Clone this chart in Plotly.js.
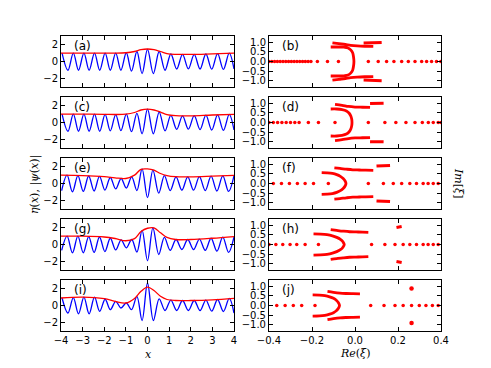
<!DOCTYPE html>
<html>
<head>
<meta charset="utf-8">
<script src="https://cdn.plot.ly/plotly-3.0.1.min.js"></script>
<style>
  html, body { margin: 0; padding: 0; background: #fff; }
  #chart { width: 491px; height: 368px; }
</style>
</head>
<body>
<div id="chart"></div>
<script>
// ---- left column: wave extrema (x positions) and values ----
// panels (a), (c), (i) have a crest at x = 0
const waveXCrest = [-3.95, -3.68, -3.43, -3.19, -2.94, -2.70, -2.45, -2.21, -1.96, -1.72, -1.47, -1.23,
  -0.98, -0.74, -0.49, -0.25, 0.0, 0.27, 0.54, 0.81, 1.08, 1.35, 1.62, 1.89, 2.16, 2.43, 2.70, 2.97,
  3.24, 3.51, 3.78, 4.0];
// panels (e), (g) have a trough at x = 0
const waveXTrough = [-3.97, -3.72, -3.47, -3.22, -2.97, -2.72, -2.47, -2.22, -1.97, -1.72, -1.47, -1.22,
  -0.98, -0.73, -0.49, -0.25, 0.0, 0.25, 0.52, 0.78, 1.05, 1.32, 1.59, 1.86, 2.13, 2.40, 2.67, 2.94,
  3.21, 3.48, 3.75, 4.0];

const wave_a = [1.0, -1.05, 1.0, -1.05, 1.0, -1.05, 1.0, -1.05, 1.0, -1.05, 1.0, -1.05, 1.05, -1.15, 1.2, -1.45,
  1.45, -1.45, 1.2, -1.05, 0.9, -0.9, 0.85, -0.88, 0.85, -0.9, 0.9, -0.92, 0.95, -0.95, 1.0, -0.9];
const wave_c = [1.0, -1.05, 1.0, -1.05, 1.0, -1.05, 1.0, -1.05, 0.97, -1.0, 0.95, -0.98, 1.0, -1.1, 1.1, -1.35,
  1.6, -1.35, 1.25, -1.0, 0.85, -0.82, 0.8, -0.8, 0.82, -0.85, 0.88, -0.9, 0.92, -0.95, 0.97, -0.9];
const wave_e = [-0.85, 1.0, -1.0, 0.95, -0.95, 0.9, -0.9, 0.85, -0.8, 0.72, -0.65, 0.6, -0.55, 0.8, -0.85, 1.75,
  -1.7, 1.6, -1.15, 0.95, -0.85, 0.8, -0.8, 0.8, -0.8, 0.82, -0.85, 0.88, -0.9, 0.92, -0.95, 0.95];
const wave_g = [-0.7, 1.0, -1.0, 1.0, -1.0, 0.95, -0.95, 0.9, -0.85, 0.75, -0.65, 0.55, -0.4, 0.6, -0.9, 1.7,
  -1.95, 2.0, -1.2, 0.85, -0.7, 0.6, -0.6, 0.6, -0.62, 0.65, -0.7, 0.75, -0.8, 0.88, -0.95, 0.9];
const wave_i = [0.9, -0.9, 0.95, -1.0, 1.0, -1.0, 1.0, -0.7, 0.75, -0.5, 0.5, -0.3, 0.3, -0.5, 1.1, -1.8,
  2.7, -1.8, 0.8, -0.6, 0.65, -0.6, 0.6, -0.6, 0.6, -0.62, 0.65, -0.68, 0.72, -0.72, 0.85, -0.9];

// red envelope |psi(x)|
const envX = [-4, -3, -2, -1.5, -1, -0.6, -0.3, 0, 0.3, 0.6, 0.9, 1.3, 2, 3, 4];
const env_a = [1.0, 1.0, 1.0, 1.0, 1.05, 1.2, 1.42, 1.5, 1.42, 1.2, 0.95, 0.86, 0.85, 0.92, 1.0];
const env_c = [1.0, 1.0, 0.98, 0.96, 1.0, 1.2, 1.5, 1.6, 1.5, 1.25, 0.95, 0.82, 0.8, 0.9, 0.97];
const env_e = [1.0, 0.95, 0.82, 0.68, 0.6, 1.0, 1.7, 1.75, 1.6, 1.2, 0.95, 0.82, 0.8, 0.88, 0.97];
const env_g = [1.0, 1.0, 0.9, 0.72, 0.45, 0.7, 1.55, 1.95, 2.0, 1.4, 0.85, 0.6, 0.6, 0.75, 0.95];
const env_i = [0.9, 1.0, 0.82, 0.5, 0.3, 0.85, 1.7, 2.2, 1.8, 1.1, 0.72, 0.6, 0.6, 0.68, 0.85];

// ---- right column: spectrum in the complex plane ----
const realX_b = [-0.400, -0.387, -0.374, -0.361, -0.348, -0.335, -0.322, -0.309, -0.296, -0.283, -0.270, -0.257,
  -0.244, -0.231, -0.218, -0.205, -0.175, -0.128, -0.077, 0.062, 0.108, 0.147, 0.181, 0.217, 0.248, 0.279,
  0.310, 0.333, 0.356, 0.379, 0.399];
const cX_b = [-0.113, -0.08, -0.05, -0.032, -0.02, -0.011, -0.007, -0.005, -0.007, -0.011, -0.02, -0.032, -0.05, -0.08, -0.113];
const cY_b = [0.75, 0.75, 0.74, 0.7, 0.6, 0.45, 0.25, 0, -0.25, -0.45, -0.6, -0.7, -0.74, -0.75, -0.75];
const upX_b = [-0.105, -0.075, -0.045, -0.02, 0.01, 0.045, 0.085];
const upY_b = [0.96, 0.92, 0.88, 0.84, 0.81, 0.79, 0.78];
const loY_b = [-0.96, -0.92, -0.88, -0.84, -0.81, -0.79, -0.78];
const tipX_b = [0.04, 0.07, 0.1, 0.124];
const tipY_b = [0.96, 0.97, 0.98, 0.99];
const tipLo_b = [-0.96, -0.97, -0.98, -0.99];

const realX_d = [-0.400, -0.380, -0.360, -0.340, -0.320, -0.300, -0.280, -0.260, -0.217, -0.170, -0.093,
  0.062, 0.139, 0.190, 0.237, 0.279, 0.313, 0.341, 0.364, 0.387, 0.400];
const cX_d = [-0.113, -0.085, -0.06, -0.04, -0.027, -0.019, -0.015, -0.014, -0.015, -0.019, -0.027, -0.04, -0.06, -0.085, -0.113];
const cY_d = [0.70, 0.70, 0.67, 0.6, 0.48, 0.32, 0.15, 0, -0.15, -0.32, -0.48, -0.6, -0.67, -0.70, -0.70];
const upX_d = [-0.093, -0.06, -0.03, 0.0, 0.035, 0.07];
const upY_d = [0.94, 0.89, 0.83, 0.8, 0.79, 0.78];
const loY_d = [-0.94, -0.89, -0.83, -0.8, -0.79, -0.78];
const tipX_d = [0.07, 0.09, 0.11, 0.133];
const tipY_d = [0.99, 1.0, 1.0, 1.0];
const tipLo_d = [-0.99, -1.0, -1.0, -1.0];

const realX_f = [-0.380, -0.342, -0.305, -0.268, -0.232, -0.193, -0.124, 0.062, 0.132, 0.178, 0.217, 0.255,
  0.286, 0.317, 0.340, 0.364, 0.387];
const cX_f = [-0.155, -0.13, -0.105, -0.085, -0.068, -0.055, -0.046, -0.042, -0.046, -0.055, -0.068, -0.085, -0.105, -0.13, -0.155];
const cY_f = [0.56, 0.55, 0.52, 0.46, 0.37, 0.26, 0.13, 0, -0.13, -0.26, -0.37, -0.46, -0.52, -0.55, -0.56];
const upX_f = [-0.096, -0.07, -0.04, -0.01, 0.02, 0.05, 0.085];
const upY_f = [0.81, 0.78, 0.74, 0.71, 0.7, 0.69, 0.68];
const loY_f = [-0.81, -0.78, -0.74, -0.71, -0.7, -0.69, -0.68];
const tipX_f = [0.1, 0.12, 0.14, 0.163];
const tipY_f = [0.9, 0.91, 0.92, 0.93];
const tipLo_f = [-0.9, -0.91, -0.92, -0.93];

const realX_h = [-0.400, -0.368, -0.336, -0.302, -0.271, -0.232, -0.170, 0.077, 0.139, 0.186, 0.224, 0.255,
  0.286, 0.317, 0.340, 0.364, 0.387];
const cX_h = [-0.193, -0.16, -0.13, -0.105, -0.085, -0.068, -0.056, -0.05, -0.056, -0.068, -0.085, -0.105, -0.13, -0.16, -0.193];
const cY_h = [0.55, 0.54, 0.51, 0.45, 0.37, 0.27, 0.14, 0, -0.14, -0.27, -0.37, -0.45, -0.51, -0.54, -0.55];
const upX_h = [-0.113, -0.085, -0.055, -0.025, 0.005, 0.035, 0.062];
const upY_h = [0.77, 0.73, 0.69, 0.66, 0.65, 0.64, 0.63];
const loY_h = [-0.77, -0.73, -0.69, -0.66, -0.65, -0.64, -0.63];
const tipX_h = [0.193, 0.205, 0.217];
const tipY_h = [0.88, 0.9, 0.93];
const tipLo_h = [-0.88, -0.9, -0.93];

const realX_j = [-0.364, -0.325, -0.287, -0.248, -0.186, 0.073, 0.135, 0.186, 0.224, 0.263, 0.299, 0.330,
  0.360, 0.387];
const cX_j = [-0.197, -0.165, -0.14, -0.118, -0.1, -0.087, -0.077, -0.072, -0.077, -0.087, -0.1, -0.118, -0.14, -0.165, -0.197];
const cY_j = [0.55, 0.54, 0.51, 0.45, 0.37, 0.27, 0.14, 0, -0.14, -0.27, -0.37, -0.45, -0.51, -0.54, -0.55];
const upX_j = [-0.128, -0.1, -0.07, -0.04, -0.01, 0.023];
const upY_j = [0.73, 0.68, 0.64, 0.62, 0.61, 0.6];
const loY_j = [-0.73, -0.68, -0.64, -0.62, -0.61, -0.6];
const tipX_j = [0.263];
const tipY_j = [0.88];
const tipLo_j = [-0.9];

const leftLetters = ["(a)", "(c)", "(e)", "(g)", "(i)"];
const rightLetters = ["(b)", "(d)", "(f)", "(h)", "(j)"];
const xTicksLeft = [-4, -3, -2, -1, 0, 1, 2, 3, 4];
const xTickTextLeft = ["\u22124", "\u22123", "\u22122", "\u22121", "0", "1", "2", "3", "4"];
const xTicksRight = [-0.4, -0.2, 0, 0.2, 0.4];
const xTickTextRight = ["\u22120.4", "\u22120.2", "0.0", "0.2", "0.4"];
const yTicksLeft = [-2, 0, 2];
const yTickTextLeft = ["\u22122", "0", "2"];
const yTicksRight = [-1, -0.5, 0, 0.5, 1];
const yTickTextRight = ["\u22121.0", "\u22120.5", "0.0", "0.5", "1.0"];

const leftPanels = [
  { xs: waveXCrest, wave: wave_a, env: env_a },
  { xs: waveXCrest, wave: wave_c, env: env_c },
  { xs: waveXTrough, wave: wave_e, env: env_e },
  { xs: waveXTrough, wave: wave_g, env: env_g },
  { xs: waveXCrest, wave: wave_i, env: env_i },
];
const rightPanels = [
  { rx: realX_b, cx: cX_b, cy: cY_b, ux: upX_b, uy: upY_b, ly: loY_b, tx: tipX_b, ty: tipY_b, tl: tipLo_b },
  { rx: realX_d, cx: cX_d, cy: cY_d, ux: upX_d, uy: upY_d, ly: loY_d, tx: tipX_d, ty: tipY_d, tl: tipLo_d },
  { rx: realX_f, cx: cX_f, cy: cY_f, ux: upX_f, uy: upY_f, ly: loY_f, tx: tipX_f, ty: tipY_f, tl: tipLo_f },
  { rx: realX_h, cx: cX_h, cy: cY_h, ux: upX_h, uy: upY_h, ly: loY_h, tx: tipX_h, ty: tipY_h, tl: tipLo_h },
  { rx: realX_j, cx: cX_j, cy: cY_j, ux: upX_j, uy: upY_j, ly: loY_j, tx: tipX_j, ty: tipY_j, tl: tipLo_j },
];

const W = 491, H = 368;
const rowTop = [36, 97, 158, 219, 280];
const panelH = 51;
const RED = "#ff0000", BLUE = "#0000ff";

function axId(prefix, n) { return n === 1 ? prefix : prefix + n; }

const traces = [];
const layout = {
  width: W, height: H,
  margin: { l: 0, r: 0, t: 0, b: 0 },
  paper_bgcolor: "#fff", plot_bgcolor: "#fff",
  showlegend: false,
  annotations: [],
};

const axisBase = {
  showline: true, mirror: "ticks", linecolor: "#000", linewidth: 1,
  ticks: "inside", ticklen: 4, tickwidth: 1, tickcolor: "#000",
  showgrid: false, zeroline: false, fixedrange: true, automargin: false,
  tickfont: { family: "DejaVu Sans", size: 10, color: "#000" },
};

for (let i = 0; i < 5; i++) {
  const yDom = [1 - (rowTop[i] + panelH) / H, 1 - rowTop[i] / H];
  const nl = 2 * i + 1, nr = 2 * i + 2;
  const last = i === 4;

  // left panel: blue wave, red envelope on top
  const L = leftPanels[i];
  traces.push({
    x: L.xs, y: L.wave, xaxis: axId("x", nl), yaxis: axId("y", nl), mode: "lines",
    line: { color: BLUE, width: 1.3, shape: "spline", smoothing: 1 }, hoverinfo: "skip",
  });
  traces.push({
    x: envX, y: L.env, xaxis: axId("x", nl), yaxis: axId("y", nl), mode: "lines",
    line: { color: RED, width: 1.3, shape: "spline", smoothing: 1 }, hoverinfo: "skip",
  });
  layout[axId("xaxis", nl)] = Object.assign({}, axisBase, {
    domain: [61 / W, 234 / W], range: [-4, 4], anchor: axId("y", nl),
    tickvals: xTicksLeft, ticktext: xTickTextLeft, showticklabels: last,
  });
  layout[axId("yaxis", nl)] = Object.assign({}, axisBase, {
    domain: yDom, range: [-3.06, 3.06], anchor: axId("x", nl),
    tickvals: yTicksLeft, ticktext: yTickTextLeft,
  });

  // right panel: eigenvalues
  const R = rightPanels[i];
  const xr = axId("x", nr), yr = axId("y", nr);
  traces.push({
    x: R.rx, y: R.rx.map(() => 0), xaxis: xr, yaxis: yr, mode: "markers",
    marker: { color: RED, size: 3.5 }, hoverinfo: "skip",
  });
  for (const [xs, ys] of [[R.cx, R.cy], [R.ux, R.uy], [R.ux, R.ly]]) {
    traces.push({
      x: xs, y: ys, xaxis: xr, yaxis: yr, mode: "lines",
      line: { color: RED, width: 2.8, shape: "spline" }, hoverinfo: "skip",
    });
  }
  for (const ys of [R.ty, R.tl]) {
    traces.push({
      x: R.tx, y: ys, xaxis: xr, yaxis: yr, mode: R.tx.length > 1 ? "lines" : "markers",
      line: { color: RED, width: 3 }, marker: { color: RED, size: 4.5 }, hoverinfo: "skip",
    });
  }
  layout[axId("xaxis", nr)] = Object.assign({}, axisBase, {
    domain: [269 / W, 441 / W], range: [-0.4, 0.4], anchor: yr,
    tickvals: xTicksRight, ticktext: xTickTextRight, showticklabels: last,
  });
  layout[axId("yaxis", nr)] = Object.assign({}, axisBase, {
    domain: yDom, range: [-1.32, 1.32], anchor: xr,
    tickvals: yTicksRight, ticktext: yTickTextRight,
  });

  // panel letters
  const letterFont = { family: "DejaVu Sans", size: 12, color: "#000" };
  layout.annotations.push({
    text: leftLetters[i], xref: axId("x", nl) + " domain", yref: axId("y", nl) + " domain",
    x: 0.065, y: 0.99, xanchor: "left", yanchor: "top", showarrow: false, font: letterFont,
  });
  layout.annotations.push({
    text: rightLetters[i], xref: xr + " domain", yref: yr + " domain",
    x: 0.062, y: 0.99, xanchor: "left", yanchor: "top", showarrow: false, font: letterFont,
  });
}

const serif = { family: "DejaVu Serif", size: 11, color: "#000" };
layout.annotations.push(
  { text: "<i>x</i>", xref: "paper", yref: "paper", x: 148 / W, y: 1 - 354 / H,
    xanchor: "center", yanchor: "middle", showarrow: false, font: serif },
  { text: "<i>Re</i>(<i>\u03be</i>)", xref: "paper", yref: "paper", x: 355 / W, y: 1 - 353 / H,
    xanchor: "center", yanchor: "middle", showarrow: false, font: serif },
  { text: "<i>\u03b7</i>(<i>x</i>), |<i>\u03c8</i>(<i>x</i>)|", xref: "paper", yref: "paper",
    x: 35 / W, y: 1 - 185 / H, xanchor: "center", yanchor: "middle", textangle: -90,
    showarrow: false, font: serif },
  { text: "<i>Im</i>[<i>\u03be</i>]", xref: "paper", yref: "paper",
    x: 458 / W, y: 1 - 183 / H, xanchor: "center", yanchor: "middle", textangle: 90,
    showarrow: false, font: serif }
);

Plotly.newPlot("chart", traces, layout, { staticPlot: true, displayModeBar: false });
</script>
</body>
</html>
